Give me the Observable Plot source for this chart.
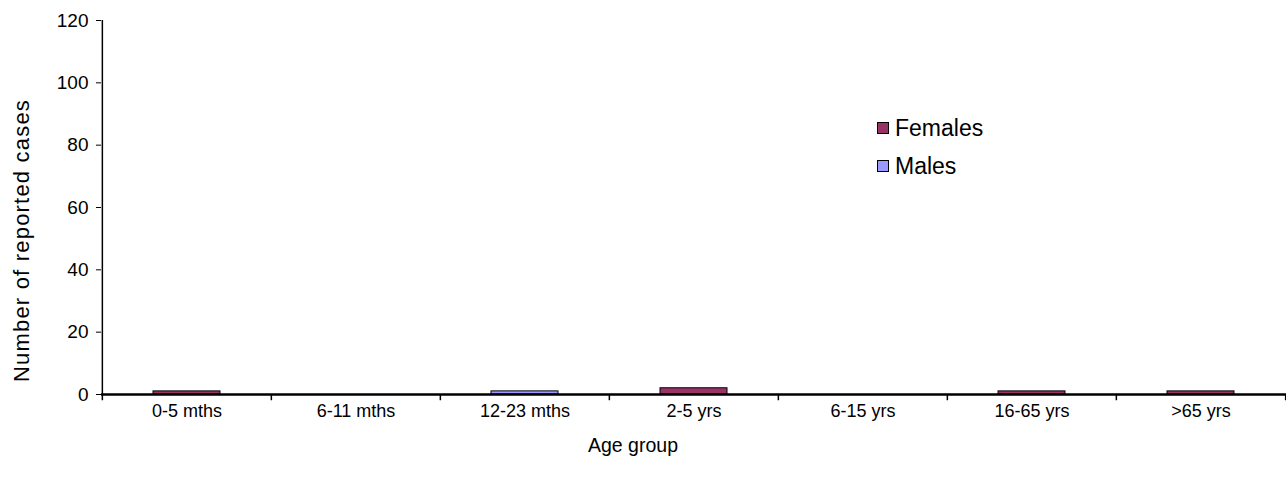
<!DOCTYPE html>
<html>
<head>
<meta charset="utf-8">
<script src="https://cdn.jsdelivr.net/npm/d3@7"></script>
<script src="https://cdn.jsdelivr.net/npm/@observablehq/plot@0.6"></script>
<style>
  html, body { margin: 0; padding: 0; background: #fff; }
  #wrap { position: relative; width: 1286px; height: 484px; font-family: "Liberation Sans", Arial, sans-serif; }
  #legend { position: absolute; left: 877px; top: 109px; font-size: 23px; color: #000; }
  #legend .item { display: flex; align-items: center; height: 38px; }
  #legend .sw { width: 10px; height: 10px; border: 1px solid #000; margin-right: 6px; }
  .ytitle { letter-spacing: 1.2px; }
</style>
</head>
<body>
<div id="wrap">
  <div id="chart"></div>
  <div id="legend"></div>
</div>
<script>
const categories = ["0-5 mths", "6-11 mths", "12-23 mths", "2-5 yrs", "6-15 yrs", "16-65 yrs", ">65 yrs"];
const series = ["Females", "Males"];
const females = [1, 0, 0, 2, 0, 1, 1];
const males = [0, 0, 1, 0, 0, 0, 0];
const colors = ["#993366", "#9999FF"];
const yTicks = [0, 20, 40, 60, 80, 100, 120];

const data = [];
categories.forEach((c, i) => {
  data.push({group: c, sex: "Females", value: females[i]});
  data.push({group: c, sex: "Males", value: males[i]});
});

const W = 1286, H = 484, mL = 101, mR = 0, mT = 20, mB = 90;
const step = (W - mL - mR) / categories.length;

const plot = Plot.plot({
  width: W,
  height: H,
  marginLeft: mL,
  marginRight: mR,
  marginTop: mT,
  marginBottom: mB,
  style: {fontFamily: "'Liberation Sans', Arial, sans-serif", fontSize: "18px", color: "#000", background: "#fff"},
  x: {domain: categories, padding: 0, label: null},
  y: {domain: [0, 120], label: null},
  color: {domain: series, range: colors},
  marks: [
    Plot.axisY({ticks: yTicks, tickSize: 5, tickPadding: 8, fontSize: 19, label: null, stroke: "#000"}),
    Plot.ruleX([categories[0]], {dx: -step / 2, stroke: "#000", strokeWidth: 1.5}),
    Plot.axisX({tickSize: 0, tickPadding: 10, fontSize: 18, label: null}),
    Plot.ruleX(categories, {x: d => d, dx: -step / 2, y1: 0, y2: -2, stroke: "#000", strokeWidth: 1.5}),
    Plot.ruleX([categories[categories.length - 1]], {dx: step / 2, y1: 0, y2: -2, stroke: "#000", strokeWidth: 1.5}),
    Plot.barY(data, Plot.stackY({x: "group", y: "value", fill: "sex", stroke: "#000", strokeWidth: 1, insetLeft: 51, insetRight: 51})),
    Plot.ruleY([0], {stroke: "#000", strokeWidth: 2.5}),
    Plot.text(["Age group"], {frameAnchor: "bottom", dx: -61, dy: 57, fontSize: 19.5, fill: "#000"}),
    Plot.text(["Number of reported cases"], {frameAnchor: "left", textAnchor: "middle", dx: -80, dy: 33, rotate: -90, fontSize: 22, fill: "#000", className: "ytitle"})
  ]
});
document.getElementById("chart").appendChild(plot);

const legend = document.getElementById("legend");
series.forEach((s, i) => {
  const item = document.createElement("div");
  item.className = "item";
  const sw = document.createElement("div");
  sw.className = "sw";
  sw.style.background = colors[i];
  const t = document.createElement("span");
  t.textContent = s;
  item.appendChild(sw);
  item.appendChild(t);
  legend.appendChild(item);
});
</script>
</body>
</html>
